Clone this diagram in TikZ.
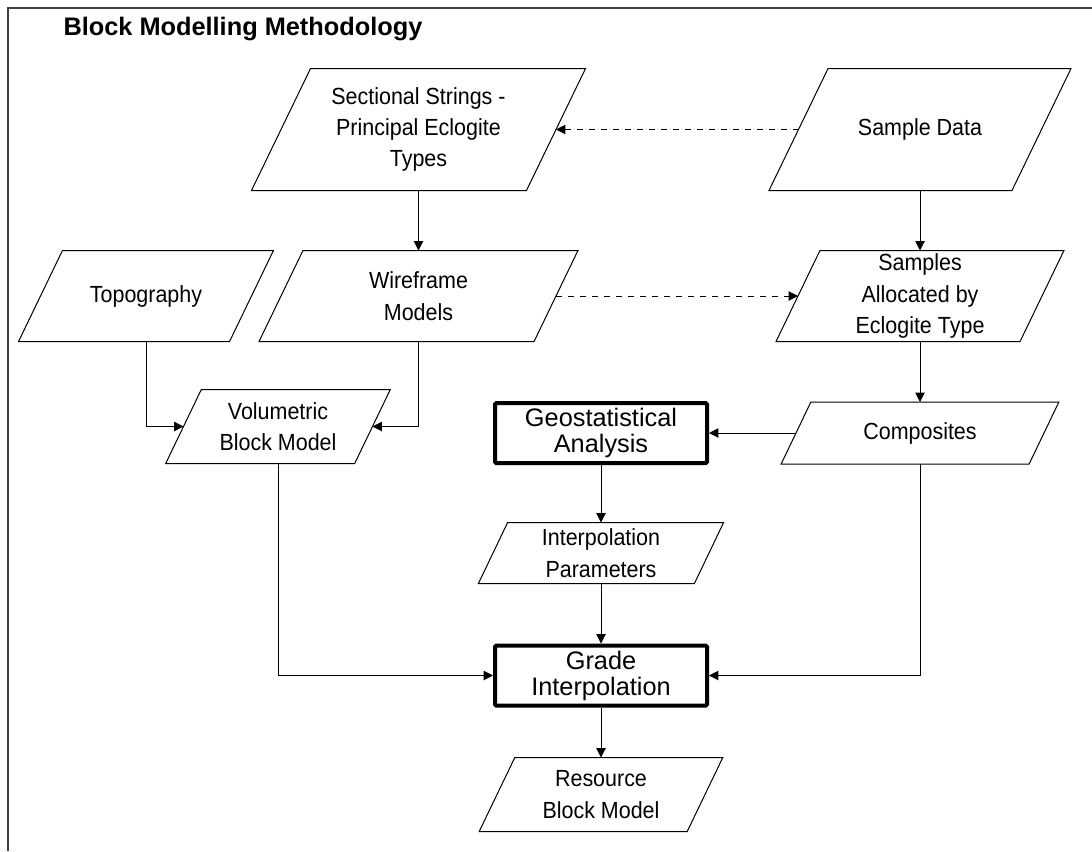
\documentclass[tikz,border=0pt]{standalone}
\usepackage{fontspec}
\setmainfont{Liberation Sans}
\newfontfamily\slimfont[FakeStretch=0.92]{Liberation Sans}
\usetikzlibrary{arrows.meta}

\begin{document}
\begin{tikzpicture}
    [x=0.75pt,y=-0.75pt,line width=0.75pt,
     io/.style 2 args={rectangle,align=center,inner sep=0pt,
       minimum width=#1,minimum height=#2,
       font=\slimfont\fontsize{17.5}{23.5}\selectfont,
       append after command={\pgfextra{\draw
         ([xshift=0.2439*#2]\tikzlastnode.north west) -- ([xshift=0.2439*#2]\tikzlastnode.north east)
         -- ([xshift=-0.2439*#2]\tikzlastnode.south east) -- ([xshift=-0.2439*#2]\tikzlastnode.south west)
         -- cycle;}}},
     proc/.style={rectangle,draw,line width=3pt,rounded corners=1pt,align=center,
       inner sep=0pt,minimum width=159pt,minimum height=45pt,
       font=\fontsize{19}{19.5}\selectfont},
     link/.style={-{Triangle[length=7pt,width=7pt]}},
     dlink/.style={link,dash pattern=on 4.5pt off 4.5pt}]
    \useasboundingbox (0,0) rectangle (1092,851);
    \draw[line width=1.5pt,black!75] (8,851) -- (8,8) -- (1092,8);
    \node[anchor=west,inner sep=0pt,font=\bfseries\fontsize{19}{19}\selectfont] (title) at (63,29) {Block Modelling Methodology};
    \node[io={205.5pt}{90.75pt}] (sect) at (418.5,129.5) {Sectional Strings -\\Principal Eclogite\\Types};
    \node[io={181.5pt}{90.75pt}] (samp) at (920,129.5) {Sample Data};
    \node[io={157.5pt}{67.5pt}] (topo) at (146,296) {Topography};
    \node[io={205.5pt}{67.5pt}] (wire) at (418.5,296) {Wireframe\\Models};
    \node[io={182.25pt}{67.5pt}] (alloc) at (920,296) {Samples\\Allocated by\\Eclogite Type};
    \node[io={141pt}{54.75pt}] (vol) at (278,426.5) {Volumetric\\Block Model};
    \node[io={185.25pt}{45.75pt}] (comp) at (920,433) {Composites};
    \node[proc] (geo) at (601,433) {Geostatistical\\Analysis};
    \node[io={161.25pt}{45pt}] (interp) at (601,553) {Interpolation\\Parameters};
    \node[proc] (grade) at (601,675.5) {Grade\\Interpolation};
    \node[io={155.25pt}{54.75pt}] (res) at (601,794.5) {Resource\\Block Model};
    \foreach \from/\to in {sect/wire,samp/alloc,alloc/comp,comp/geo,geo/interp,interp/grade,grade/res}
      \draw[link] (\from) -- (\to);
    \foreach \from/\to in {topo/vol,wire/vol,vol/grade,comp/grade}
      \draw[link] (\from) |- (\to);
    \foreach \from/\to in {samp/sect,wire/alloc}
      \draw[dlink] (\from) -- (\to);
\end{tikzpicture}
\end{document}
